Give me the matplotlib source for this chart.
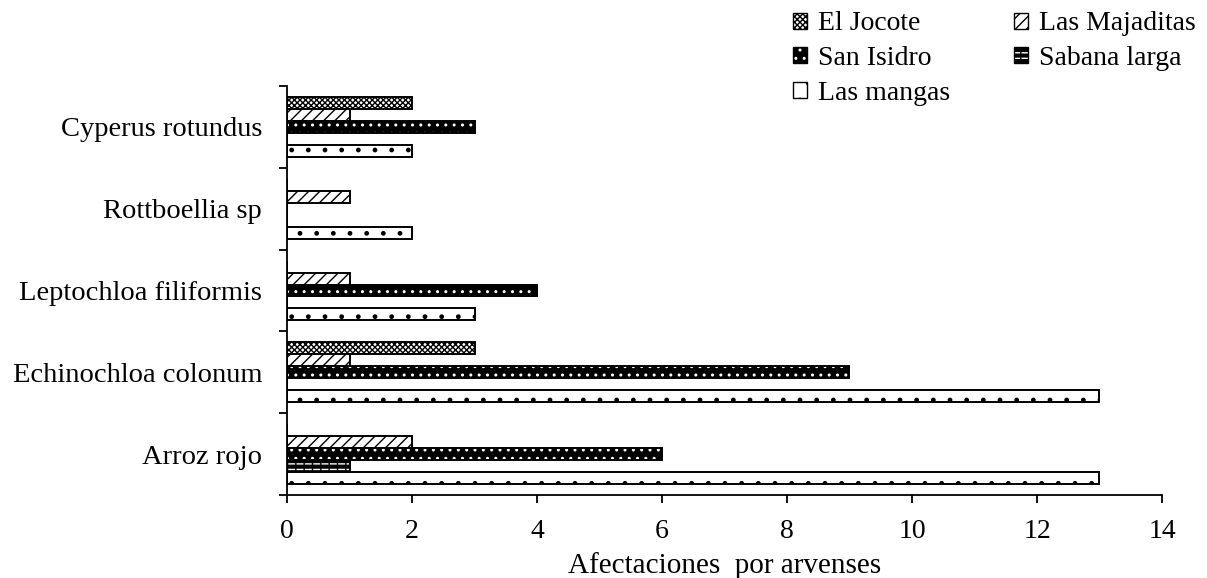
import numpy as np
import matplotlib.pyplot as plt
from matplotlib.patches import Patch

plt.rcParams['font.family'] = ['Liberation Serif', 'DejaVu Serif']
plt.rcParams['hatch.linewidth'] = 1.0

# weeds, bottom to top
categories = ['Arroz rojo', 'Echinochloa colonum', 'Leptochloa filiformis',
              'Rottboellia sp', 'Cyperus rotundus']
el_jocote = [0, 3, 0, 0, 2]
las_majaditas = [2, 1, 1, 1, 1]
san_isidro = [6, 9, 4, 0, 3]
sabana_larga = [1, 0, 0, 0, 0]
las_mangas = [13, 13, 3, 2, 2]
xticks = [0, 2, 4, 6, 8, 10, 12, 14]

fig = plt.figure(figsize=(12.07, 5.78), dpi=100)
ax = fig.add_axes([0.2378, 0.1436, 0.7249, 0.7076])

y = np.arange(len(categories))
h = 0.146
lw = 1.4

# El Jocote: fine cross-hatch
ax.barh(y + 2*h, el_jocote, h, color='white', edgecolor='black', hatch='xxxxxx', linewidth=lw)
# Las Majaditas: diagonal lines
ax.barh(y + h, las_majaditas, h, color='white', edgecolor='black', hatch='///', linewidth=lw)
# San Isidro: black with white dots
ax.barh(y, san_isidro, h, color='black', edgecolor='white', hatch='..', linewidth=0)
ax.barh(y, san_isidro, h, color='none', edgecolor='black', linewidth=lw)
# Sabana larga: black with white dashes
ax.barh(y - h, sabana_larga, h, color='black', edgecolor='white', hatch='---', linewidth=0)
ax.barh(y - h, sabana_larga, h, color='none', edgecolor='black', hatch='||', linewidth=lw)
# Las mangas: white with sparse dots
ax.barh(y - 2*h, las_mangas, h, color='white', edgecolor='black', hatch='.', linewidth=lw)

ax.set_xlim(0, 14)
ax.set_ylim(-0.5, 4.5)
ax.set_xticks(xticks)
ax.set_yticks(np.arange(-0.5, 5, 1))
ax.set_yticklabels([])
ax.set_yticks(y, categories, minor=True)
ax.tick_params(axis='y', which='minor', length=0, pad=18, labelsize=20.5)
ax.tick_params(axis='y', which='major', length=6, width=1.3, direction='out')
ax.tick_params(axis='x', length=6, width=1.3, direction='out', pad=11, labelsize=20)
for s in ['top', 'right']:
    ax.spines[s].set_visible(False)
for s in ['left', 'bottom']:
    ax.spines[s].set_linewidth(1.3)
ax.set_xlabel('Afectaciones  por arvenses', fontsize=21, labelpad=6)

handles = [
    Patch(facecolor='white', edgecolor='black', hatch='xxxxxx', linewidth=1),
    (Patch(facecolor='black', edgecolor='white', hatch='..', linewidth=0),
     Patch(facecolor='none', edgecolor='black', linewidth=1)),
    Patch(facecolor='white', edgecolor='black', hatch='.', linewidth=1),
    Patch(facecolor='white', edgecolor='black', hatch='///', linewidth=1),
    (Patch(facecolor='black', edgecolor='white', hatch='---', linewidth=0),
     Patch(facecolor='none', edgecolor='black', hatch='||', linewidth=1)),
]
labels = ['El Jocote', 'San Isidro', 'Las mangas', 'Las Majaditas', 'Sabana larga']
fig.legend(handles, labels, loc='upper left', bbox_to_anchor=(0.655, 0.985),
           ncol=2, frameon=False, fontsize=20, handlelength=0.5, handleheight=0.5,
           handletextpad=0.4, columnspacing=2.3, labelspacing=0.35, borderpad=0.1,
           borderaxespad=0)

fig.savefig('out.png', dpi=100)
